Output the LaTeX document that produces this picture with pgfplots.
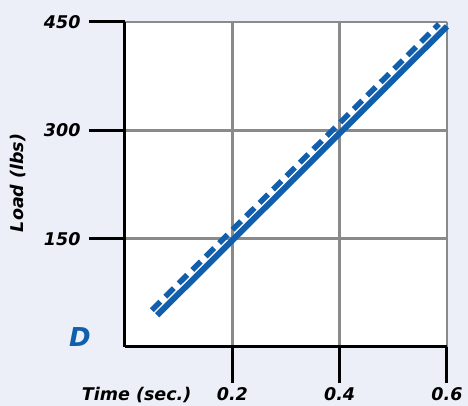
\documentclass[border=0pt]{standalone}
\usepackage{fontspec}
\setmainfont{DejaVu Sans}
\usepackage{pgfplots}
\pgfplotsset{compat=1.18}
\definecolor{bgpanel}{RGB}{236,239,247}
\definecolor{gridgray}{RGB}{138,138,138}
\definecolor{lineblue}{RGB}{16,94,172}
\begin{document}
\begin{tikzpicture}[x=1pt,y=1pt]
\path[use as bounding box, fill=bgpanel] (-125,-59) rectangle (343,347);
\begin{axis}[
  at={(0,0)}, anchor=south west,
  scale only axis, width=322pt, height=325pt,
  xmin=0, xmax=0.6, ymin=0, ymax=450,
  xtick={0.2,0.4,0.6}, ytick={150,300,450},
  axis x line*=bottom, axis y line*=left,
  axis line style={line width=3pt, -},
  axis background/.style={fill=white},
  grid=major,
  major grid style={gridgray, line width=2.5pt},
  tick align=outside,
  major tick length=36pt,
  tick style={black, line width=3pt},
  clip=false,
  font=\bfseries\itshape\fontsize{17.5}{20}\selectfont,
  /pgf/number format/assume math mode=true,
  xticklabel style={anchor=base, yshift=-17pt},
  yticklabel style={anchor=east, xshift=-5pt},
  xlabel={Time (sec.)},
  xlabel style={at={(axis description cs:0.217,-0.166)}, anchor=base east},
  ylabel={Load (lbs)},
  ylabel style={at={(axis description cs:-0.332,0.505)}, anchor=center},
]
\addplot[lineblue, line width=6pt] coordinates {(0.06,44) (0.6,444)};
\addplot[lineblue, line width=5.5pt, dash pattern=on 12pt off 7pt] coordinates {(0.05,51) (0.585,447)};
\node[lineblue, font=\bfseries\itshape\fontsize{26}{28}\selectfont] at (axis description cs:-0.14,0.031) {D};
\end{axis}
\end{tikzpicture}
\end{document}
